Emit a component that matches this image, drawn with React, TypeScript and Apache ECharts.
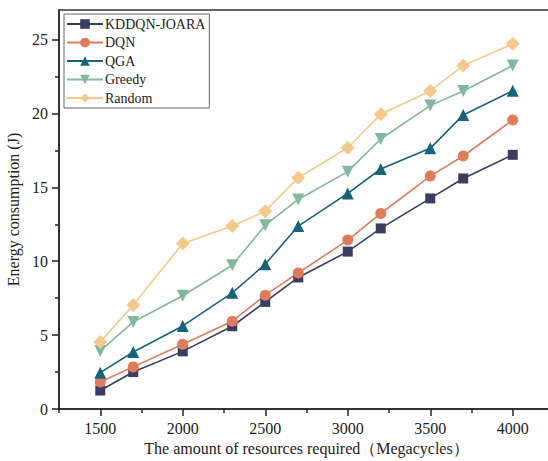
import React, { useEffect, useRef } from "react";
import * as echarts from "echarts";

const xValues = [1500, 1700, 2000, 2300, 2500, 2700, 3000, 3200, 3500, 3700, 4000];
const kddqn = [1.25, 2.5, 3.9, 5.6, 7.25, 8.9, 10.65, 12.22, 14.25, 15.6, 17.2];
const dqn = [1.83, 2.85, 4.38, 5.94, 7.7, 9.21, 11.43, 13.23, 15.76, 17.12, 19.56];
const qga = [2.46, 3.86, 5.62, 7.86, 9.8, 12.38, 14.59, 16.24, 17.64, 19.9, 21.54];
const greedy = [3.93, 5.89, 7.66, 9.73, 12.44, 14.18, 16.06, 18.27, 20.53, 21.52, 23.24];
const random = [4.54, 7.03, 11.2, 12.38, 13.39, 15.65, 17.68, 19.94, 21.52, 23.24, 24.71];

const xMajorTicks = [1500, 2000, 2500, 3000, 3500, 4000];
const xMinorTicks = [1250, 1750, 2250, 2750, 3250, 3750, 4250];
const yMajorTicks = [0, 5, 10, 15, 20, 25];
const yMinorTicks = [2.5, 7.5, 12.5, 17.5, 22.5];

const seriesDefs = [
  { name: "KDDQN-JOARA", data: kddqn, color: "#3a3d62", symbol: "rect", size: 10, rotate: 0 },
  { name: "DQN", data: dqn, color: "#e07b5b", symbol: "circle", size: 11, rotate: 0 },
  { name: "QGA", data: qga, color: "#17637a", symbol: "triangle", size: 12, rotate: 0 },
  { name: "Greedy", data: greedy, color: "#82b89d", symbol: "triangle", size: 12, rotate: 180 },
  { name: "Random", data: random, color: "#f4c98b", symbol: "diamond", size: 14, rotate: 0 },
];

const FONT = "'Liberation Serif', 'Times New Roman', serif";
const AXIS_COLOR = "#222";

export default function App() {
  const ref = useRef<HTMLDivElement>(null);
  useEffect(() => {
    if (!ref.current) return;
    const chart = echarts.init(ref.current, undefined, { renderer: "svg" });
    chart.setOption({
      animation: false,
      backgroundColor: "#fff",
      textStyle: { fontFamily: FONT },
      grid: {
        left: 59,
        top: 10,
        bottom: 52,
        right: -6,
        outerBoundsMode: "none",
        containLabel: false,
        show: true,
        borderColor: "#333",
        borderWidth: 1.5,
        backgroundColor: "transparent",
      },
      legend: {
        orient: "vertical",
        left: 64,
        top: 14,
        padding: [3, 4, 3, 2],
        itemWidth: 36,
        itemHeight: 12,
        itemGap: 4.5,
        borderColor: "#666",
        borderWidth: 1,
        textStyle: { fontFamily: FONT, fontSize: 14, color: "#222", padding: [0, 0, 0, -3] },
        data: seriesDefs.map((s) => s.name),
      },
      xAxis: [
        {
          type: "value",
          min: 1250,
          max: 4250,
          position: "bottom",
          name: "The amount of resources required（Megacycles）",
          nameLocation: "middle",
          nameGap: 30,
          nameTextStyle: { fontFamily: FONT, fontSize: 16, color: "#222" },
          axisLine: { show: true, lineStyle: { color: AXIS_COLOR, width: 1.5 } },
          axisTick: { show: true, length: 7, customValues: xMajorTicks, lineStyle: { color: AXIS_COLOR, width: 1.5 } },
          axisLabel: {
            customValues: xMajorTicks,
            formatter: (v: number) => String(v),
            fontFamily: FONT,
            fontSize: 16,
            color: "#222",
            margin: 11,
          },
          splitLine: { show: false },
        },
        {
          type: "value",
          min: 1250,
          max: 4250,
          position: "bottom",
          axisLine: { show: false },
          axisTick: { show: true, length: 4, customValues: xMinorTicks, lineStyle: { color: AXIS_COLOR, width: 1.5 } },
          axisLabel: { show: false },
          splitLine: { show: false },
        },
      ],
      yAxis: [
        {
          type: "value",
          min: 0,
          max: 27,
          position: "left",
          name: "Energy consumption (J)",
          nameLocation: "middle",
          nameGap: 36,
          nameTextStyle: { fontFamily: FONT, fontSize: 16, color: "#222" },
          axisLine: { show: true, lineStyle: { color: AXIS_COLOR, width: 1.5 } },
          axisTick: { show: true, length: 7, customValues: yMajorTicks, lineStyle: { color: AXIS_COLOR, width: 1.5 } },
          axisLabel: {
            customValues: yMajorTicks,
            formatter: (v: number) => String(v),
            fontFamily: FONT,
            fontSize: 16,
            color: "#222",
            margin: 11,
          },
          splitLine: { show: false },
        },
        {
          type: "value",
          min: 0,
          max: 27,
          position: "left",
          axisLine: { show: false },
          axisTick: { show: true, length: 4, customValues: yMinorTicks, lineStyle: { color: AXIS_COLOR, width: 1.5 } },
          axisLabel: { show: false },
          splitLine: { show: false },
        },
      ],
      series: seriesDefs.map((s) => ({
        name: s.name,
        type: "line",
        xAxisIndex: 0,
        yAxisIndex: 0,
        data: xValues.map((x, i) => [x, s.data[i]]),
        symbol: s.symbol,
        symbolSize: s.size,
        symbolRotate: s.rotate,
        showAllSymbol: true,
        lineStyle: { color: s.color, width: 1.6 },
        itemStyle: { color: s.color },
        emphasis: { disabled: true },
      })),
    });
    return () => chart.dispose();
  }, []);
  return (
    <div
      ref={ref}
      style={{ position: "absolute", left: 0, top: 0, width: 548, height: 461 }}
    />
  );
}
